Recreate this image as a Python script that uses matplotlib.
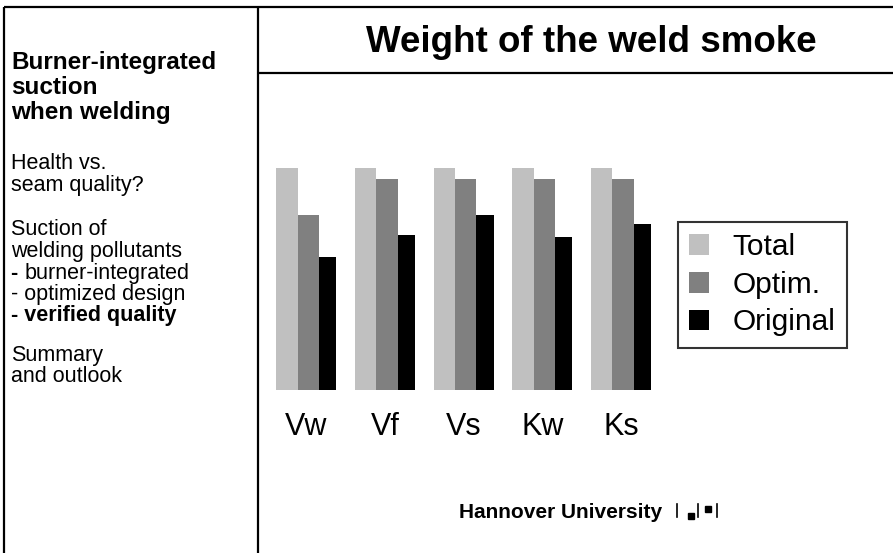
import matplotlib
matplotlib.use("Agg")
import matplotlib.pyplot as plt
import numpy as np
from matplotlib.lines import Line2D
from matplotlib.patches import Rectangle

plt.rcParams["font.family"] = ["Liberation Sans", "DejaVu Sans"]

# --- data -------------------------------------------------------------
categories = ["Vw", "Vf", "Vs", "Kw", "Ks"]
series_names = ["Total", "Optim.", "Original"]
total = [100, 100, 100, 100, 100]
optim = [79, 95, 95, 95, 95]
original = [60, 70, 79, 69, 75]

title = "Weight of the weld smoke"
footer = "Hannover University"

W, H = 893, 553
fig = plt.figure(figsize=(W / 100, H / 100), dpi=100)
fig.patch.set_facecolor("white")


def fx(x):
    return x / W


def fy(y):
    return 1 - y / H


# --- slide frame ----------------------------------------------------------
frame_kw = dict(color="black", lw=1.6, transform=fig.transFigure, solid_capstyle="butt")
fig.add_artist(Line2D([fx(4), fx(W)], [fy(7), fy(7)], **frame_kw))
fig.add_artist(Line2D([fx(4), fx(4)], [fy(7), fy(H)], **frame_kw))
fig.add_artist(Line2D([fx(258), fx(258)], [fy(7), fy(H)], **frame_kw))
fig.add_artist(Line2D([fx(258), fx(W)], [fy(73), fy(73)], **frame_kw))

# --- title ---------------------------------------------------------------
fig.text(fx(591), fy(52), title, ha="center", va="baseline",
         fontsize=26.5, fontweight="bold")

# --- sidebar text --------------------------------------------------------
side_lines = [
    ("Burner-integrated", 69, "bold", 17.5),
    ("suction", 94, "bold", 17.5),
    ("when welding", 119, "bold", 17.5),
    ("Health vs.", 169, "normal", 15.5),
    ("seam quality?", 191, "normal", 15.5),
    ("Suction of", 235, "normal", 15.5),
    ("welding pollutants", 257, "normal", 15.5),
    ("burner-integrated", 279, "mixed", 15.5),
    ("- optimized design", 300, "normal", 15.5),
    ("- verified quality", 321, "bold", 15.5),
    ("Summary", 361, "normal", 15.5),
    ("and outlook", 382, "normal", 15.5),
]
for txt, yb, weight, fs in side_lines:
    if weight == "mixed":
        t = fig.text(fx(11), fy(yb), "- ", ha="left", va="baseline",
                     fontsize=fs, fontweight="bold")
        fig.canvas.draw()
        bb = t.get_window_extent()
        fig.text(bb.x1 / W, fy(yb), txt, ha="left", va="baseline",
                 fontsize=fs)
    else:
        fig.text(fx(11), fy(yb), txt, ha="left", va="baseline",
                 fontsize=fs, fontweight=weight)

# --- bar chart -----------------------------------------------------------
group_px = 78.7
ax_left = 306.3 - 0.5 * group_px
ax = fig.add_axes([fx(ax_left), fy(390), fx(5 * group_px), 221.7 / H])
x = np.arange(len(categories))
widths = [0.27, 0.27, 0.22]
colors = ["#c0c0c0", "#808080", "#000000"]
edge = -0.381
for vals, w, c, name in zip([total, optim, original], widths, colors, series_names):
    ax.bar(x + edge, vals, width=w, align="edge", color=c, label=name,
           linewidth=0)
    edge += w

ax.set_xlim(-0.5, len(categories) - 0.5)
ax.set_ylim(0, 100)
ax.set_xticks(x)
ax.set_xticklabels(categories, fontsize=22)
ax.tick_params(axis="x", length=0, pad=16)
ax.set_yticks([])
for s in ax.spines.values():
    s.set_visible(False)
ax.patch.set_alpha(0)

leg = fig.legend(loc="upper left", bbox_to_anchor=(fx(678), fy(222)),
                 borderaxespad=0, fontsize=21.5, frameon=True, fancybox=False,
                 edgecolor="black", handlelength=0.65, handleheight=0.7,
                 handletextpad=0.8, borderpad=0.38, labelspacing=0.32)
leg.get_frame().set_linewidth(1.5)

# --- footer --------------------------------------------------------------
fig.text(fx(459), fy(518), footer, ha="left", va="baseline",
         fontsize=15, fontweight="bold")
logo_kw = dict(color="black", lw=1.2, transform=fig.transFigure)
for lx in (677, 698, 717):
    fig.add_artist(Line2D([fx(lx), fx(lx)], [fy(504), fy(517)], **logo_kw))
fig.add_artist(Rectangle((fx(688), fy(519)), fx(6), 6 / H, color="black",
                         transform=fig.transFigure))
fig.add_artist(Rectangle((fx(705), fy(512)), fx(6), 6 / H, color="black",
                         transform=fig.transFigure))

fig.savefig("out.png", dpi=100, facecolor="white")
